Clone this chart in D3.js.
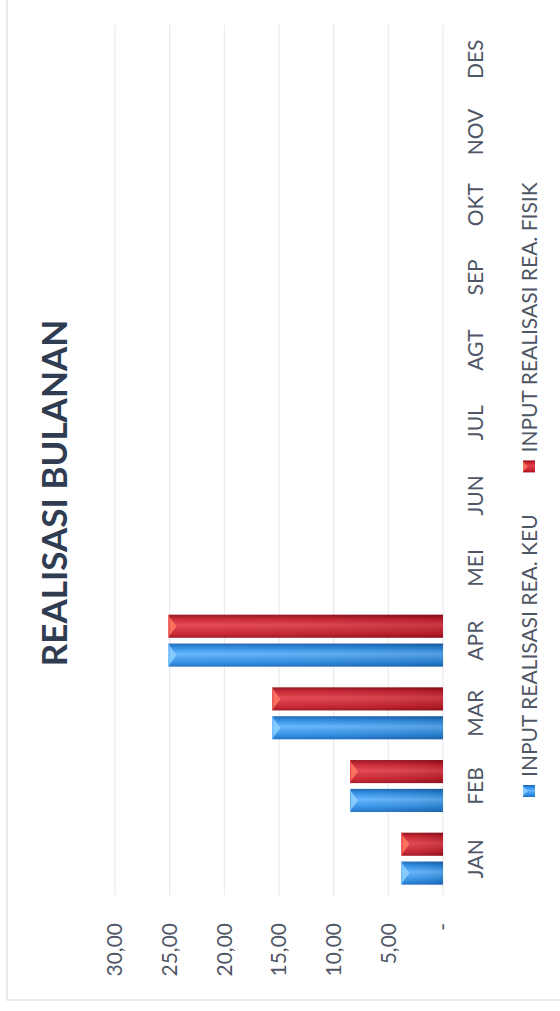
<!DOCTYPE html>
<html>
<head>
<meta charset="utf-8">
<script src="https://cdn.jsdelivr.net/npm/d3@7/dist/d3.min.js"></script>
<style>
  html, body { margin: 0; padding: 0; background: #ffffff; }
  svg { display: block; }
  text { font-family: Lato, "Open Sans", sans-serif; }
</style>
</head>
<body>
<svg id="chart" width="560" height="1011"></svg>
<script>
// ---- data ----
const months = ["JAN","FEB","MAR","APR","MEI","JUN","JUL","AGT","SEP","OKT","NOV","DES"];
const keu    = [3.8, 8.5, 15.6, 25.1, null, null, null, null, null, null, null, null];
const fisik  = [3.8, 8.5, 15.6, 25.1, null, null, null, null, null, null, null, null];
const seriesNames = ["INPUT REALISASI REA. KEU", "INPUT REALISASI REA. FISIK"];
const tickValues = [0, 5, 10, 15, 20, 25, 30];
const tickLabels = ["-", "5,00", "10,00", "15,00", "20,00", "25,00", "30,00"];
const title = "REALISASI BULANAN";

// ---- layout (chart drawn unrotated, then turned -90deg) ----
const W = 1011, H = 560;
const svg = d3.select("#chart");
const defs = svg.append("defs");
const g = svg.append("g").attr("transform", `translate(0,${W}) rotate(-90)`);

const palette = [
  { base: "#2a8be3", light: "#5fb4ff", dark: "#1c6cc0", edge: "#1a62b0", hi: "#8fd0ff" },
  { base: "#c91f2d", light: "#e2424c", dark: "#a0111d", edge: "#8f0e19", hi: "#ff7a62" }
];
palette.forEach((p, i) => {
  const lg = defs.append("linearGradient").attr("id", "grad" + i)
    .attr("x1", 0).attr("y1", 0).attr("x2", 1).attr("y2", 0);
  lg.append("stop").attr("offset", "0%").attr("stop-color", p.dark);
  lg.append("stop").attr("offset", "18%").attr("stop-color", p.base);
  lg.append("stop").attr("offset", "55%").attr("stop-color", p.light);
  lg.append("stop").attr("offset", "82%").attr("stop-color", p.base);
  lg.append("stop").attr("offset", "100%").attr("stop-color", p.edge);
  const lg2 = defs.append("linearGradient").attr("id", "shade" + i)
    .attr("x1", 0).attr("y1", 0).attr("x2", 0).attr("y2", 1);
  lg2.append("stop").attr("offset", "0%").attr("stop-color", "#ffffff").attr("stop-opacity", 0.05);
  lg2.append("stop").attr("offset", "100%").attr("stop-color", "#000000").attr("stop-opacity", 0.12);
});

// chart border
g.append("rect").attr("x", 11).attr("y", 7).attr("width", 1040).attr("height", 600)
  .attr("fill", "none").attr("stroke", "#dcdcdc").attr("stroke-width", 1.2);

const x = d3.scaleBand().domain(months).range([116, 988]).paddingInner(0.285).paddingOuter(0.1425);
const xs = d3.scaleBand().domain([0, 1]).range([0, x.bandwidth()]).paddingInner(0.2);
const y = d3.scaleLinear().domain([0, 30]).range([443, 115]);

// gridlines
g.append("g").selectAll("line").data(tickValues).join("line")
  .attr("x1", 116).attr("x2", 986)
  .attr("y1", d => y(d)).attr("y2", d => y(d))
  .attr("stroke", "#e6e6e6").attr("stroke-width", 1);

// value axis
const ya = g.append("g").attr("transform", "translate(116,0)")
  .call(d3.axisLeft(y).tickValues(tickValues).tickFormat((d, i) => tickLabels[i]).tickSize(0).tickPadding(28));
ya.select(".domain").remove();
ya.selectAll("text").attr("font-size", 21).attr("fill", "#4f5665").style("font-family", "Lato");

// category axis
const xa = g.append("g").attr("transform", `translate(0,${y(0)})`)
  .call(d3.axisBottom(x).tickSize(0).tickPadding(25));
xa.select(".domain").remove();
xa.selectAll("text").attr("font-size", 21).attr("fill", "#4f5665").style("font-family", "Lato");

// bars
const series = [keu, fisik];
series.forEach((vals, si) => {
  const p = palette[si];
  const data = months.map((m, i) => ({ m, v: vals[i] })).filter(d => d.v != null);
  const bg = g.append("g");
  const bx = d => x(d.m) + xs(si);
  const bw = xs.bandwidth();
  bg.selectAll("rect.bar").data(data).join("rect").attr("class", "bar")
    .attr("x", bx).attr("width", bw)
    .attr("y", d => y(d.v)).attr("height", d => y(0) - y(d.v))
    .attr("fill", `url(#grad${si})`);
  bg.selectAll("rect.shade").data(data).join("rect").attr("class", "shade")
    .attr("x", bx).attr("width", bw)
    .attr("y", d => y(d.v)).attr("height", d => y(0) - y(d.v))
    .attr("fill", `url(#shade${si})`);
  // bevel highlight at the bar end
  bg.selectAll("path.hi").data(data).join("path").attr("class", "hi")
    .attr("d", d => {
      const x0 = bx(d), y0 = y(d.v);
      return `M${x0 + 1},${y0} L${x0 + bw - 1},${y0} L${x0 + bw / 2},${y0 + 8} Z`;
    })
    .attr("fill", p.hi).attr("opacity", 0.85);
  bg.selectAll("line.cap").data(data).join("line").attr("class", "cap")
    .attr("x1", bx).attr("x2", d => bx(d) + bw)
    .attr("y1", d => y(d.v) + 0.5).attr("y2", d => y(d.v) + 0.5)
    .attr("stroke", p.light).attr("stroke-width", 1);
});

// title
g.append("text").attr("x", 518).attr("y", 67).attr("text-anchor", "middle")
  .attr("font-size", 35).attr("font-weight", 700).attr("fill", "#2f3c51")
  .style("font-family", "Lato").text(title);

// legend
const lg = g.append("g").attr("transform", "translate(0,529)");
let cx = 214;
seriesNames.forEach((name, i) => {
  const p = palette[i];
  lg.append("rect").attr("x", cx).attr("y", -6).attr("width", 12).attr("height", 12)
    .attr("fill", `url(#grad${i})`);
  lg.append("path").attr("d", `M${cx + 1},-6 L${cx + 11},-6 L${cx + 6},-1 Z`).attr("fill", p.hi).attr("opacity", 0.8);
  const t = lg.append("text").attr("x", cx + 20).attr("y", 7.5)
    .attr("font-size", 21).attr("fill", "#4f5665").style("font-family", "Lato").text(name);
  cx += 20 + t.node().getComputedTextLength() + 42;
});
</script>
</body>
</html>
